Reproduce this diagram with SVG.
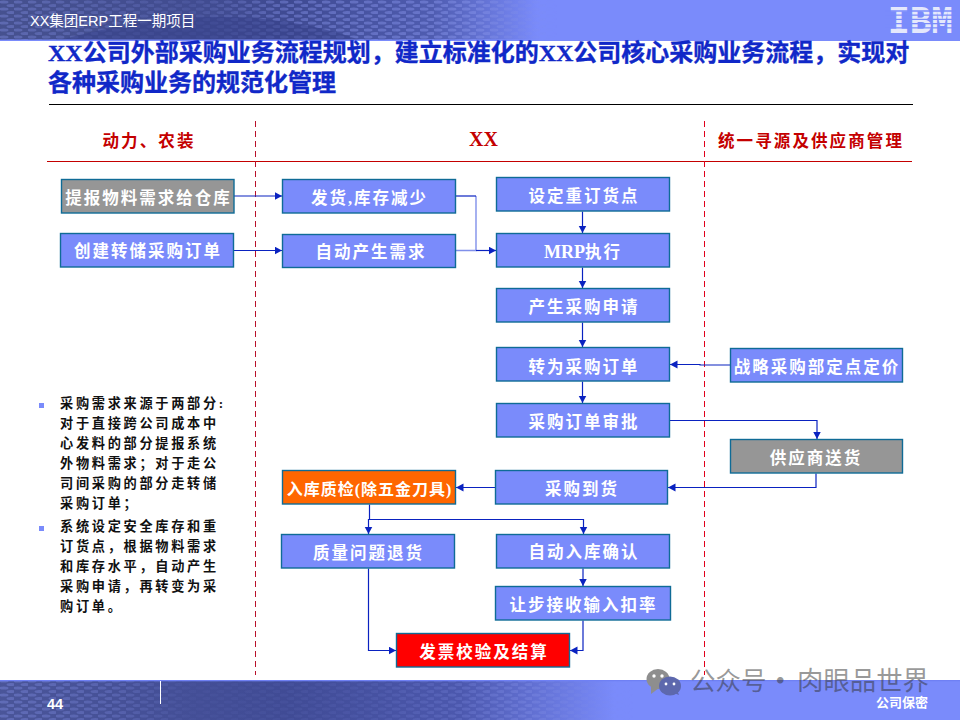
<svg xmlns="http://www.w3.org/2000/svg" width="960" height="720" viewBox="0 0 960 720">
<style>
text{font-family:"Liberation Serif","Noto Sans CJK SC",serif}
.b{stroke:#0f6b96;stroke-width:1.4}
.bl{fill:#7a8bfb}.gr{fill:#969696}.or{fill:#ff6600}.re{fill:#ff0000}
.t{fill:#fff;font-size:16.5px;font-weight:700;letter-spacing:2px;text-anchor:middle}
.title{fill:#1028c8;stroke:#1028c8;stroke-width:.35;font-size:24px;font-weight:700}
.h{fill:#c40000;font-size:16.5px;font-weight:700;letter-spacing:2.1px;text-anchor:middle}
.n{fill:#111;font-size:13.2px;font-weight:700;letter-spacing:2.7px}
.s{font-family:"Liberation Sans","Noto Sans CJK SC",sans-serif;fill:#fff}
.c{fill:none;stroke:#0a22c0;stroke-width:1.2}
.c2{fill:none;stroke:#8090ea;stroke-width:1.4}
.w{fill:#333;fill-opacity:.5;font-family:"Noto Sans CJK SC",sans-serif}
</style>
<defs>
<marker id="a" markerUnits="userSpaceOnUse" markerWidth="9" markerHeight="9" refX="7.5" refY="4" orient="auto"><path d="M0,0L7.5,4L0,8Z" fill="#0a22c0"/></marker>
<linearGradient id="hg" x1="0" x2="1" y1="0" y2="0"><stop offset="0" stop-color="#46518f"/><stop offset=".3" stop-color="#3f4a92"/><stop offset=".45" stop-color="#4f5cb0"/><stop offset=".56" stop-color="#7a8bfb"/><stop offset="1" stop-color="#7a8bfb"/></linearGradient>
<linearGradient id="fg" x1="0" x2="1" y1="0" y2="0"><stop offset="0" stop-color="#4a5599"/><stop offset=".3" stop-color="#404b95"/><stop offset=".48" stop-color="#4c58ae"/><stop offset=".64" stop-color="#7a8bfb"/><stop offset="1" stop-color="#7a8bfb"/></linearGradient>
<pattern id="dots" width="14" height="7" patternUnits="userSpaceOnUse"><ellipse cx="4" cy="2" rx="4.5" ry="1.6" fill="#8492e6" fill-opacity=".55"/><ellipse cx="11" cy="5.5" rx="4.5" ry="1.6" fill="#8492e6" fill-opacity=".55"/></pattern>
<linearGradient id="fadeH" x1="0" x2="1" y1="0" y2="0"><stop offset="0" stop-color="#fff" stop-opacity=".7"/><stop offset=".2" stop-color="#fff" stop-opacity=".25"/><stop offset=".3" stop-color="#fff" stop-opacity=".8"/><stop offset=".5" stop-color="#fff" stop-opacity=".9"/><stop offset=".58" stop-color="#fff" stop-opacity="0"/></linearGradient>
<linearGradient id="fadeF" x1="0" x2="1" y1="0" y2="0"><stop offset="0" stop-color="#fff" stop-opacity=".7"/><stop offset=".12" stop-color="#fff" stop-opacity=".5"/><stop offset=".2" stop-color="#fff" stop-opacity=".1"/><stop offset=".38" stop-color="#fff" stop-opacity=".2"/><stop offset=".55" stop-color="#fff" stop-opacity=".6"/><stop offset=".66" stop-color="#fff" stop-opacity="0"/></linearGradient>
<mask id="mh"><rect width="960" height="40" fill="url(#fadeH)"/></mask>
<mask id="mf"><rect y="680" width="960" height="40" fill="url(#fadeF)"/></mask>
</defs>
<rect width="960" height="720" fill="#fff"/>
<g id="header">
<rect width="960" height="40" fill="url(#hg)"/>
<rect width="960" height="40" fill="url(#dots)" mask="url(#mh)"/>
<path d="M60,40Q230,-6 360,40Z" fill="#37428a" fill-opacity=".55"/>
<rect y="39.5" width="960" height="1.5" fill="#7a8bfb"/>
<text class="s" x="30" y="26" font-size="14.5">XX集团ERP工程一期项目</text>
<text x="920.5" y="33" font-size="39" font-weight="700" fill="#e4e8fc" text-anchor="middle" textLength="65" lengthAdjust="spacingAndGlyphs" style="font-family:'Liberation Mono',monospace">IBM</text>
<path d="M885,11H956M885,15.2H956M885,19.4H956M885,23.6H956M885,27.8H956" stroke="#7a8bfb" stroke-width="1.3"/>
</g>
<g id="footer">
<rect y="680" width="960" height="40" fill="url(#fg)"/>
<rect y="680" width="960" height="40" fill="url(#dots)" mask="url(#mf)"/>
<rect y="680" width="960" height="1.3" fill="#6f80f4"/>
<rect x="160" y="681" width="1" height="23" fill="#fff"/>
<text class="s" x="47" y="709" font-size="14.5" font-weight="700">44</text>
<text class="s" x="876" y="707" font-size="13" font-weight="700">公司保密</text>
</g>
<g id="title">
<text class="title" x="48" y="61">XX公司外部采购业务流程规划，建立标准化的XX公司核心采购业务流程，实现对</text>
<text class="title" x="48" y="91">各种采购业务的规范化管理</text>
</g>
<g id="guides" fill="none">
<path d="M49,104.5H913" stroke="#000" stroke-width="1"/>
<path d="M47,161.5H912" stroke="#c40000" stroke-width="1.2"/>
<path d="M255.5,121V675" stroke="#b8102a" stroke-width="1" stroke-dasharray="6 4"/>
<path d="M704.5,121V675" stroke="#e0001c" stroke-width="1" stroke-dasharray="6 4"/>
</g>
<g id="lanes">
<text class="h" x="149" y="147">动力、农装</text>
<text class="h" x="483.5" y="146" style="font-size:20px;letter-spacing:0">XX</text>
<text class="h" x="811" y="147">统一寻源及供应商管理</text>
</g>
<g id="connectors">
<path class="c" d="M234,196H282" marker-end="url(#a)"/>
<path class="c" d="M233.5,250.5H282" marker-end="url(#a)"/>
<path class="c2" d="M456,250.5H476V196"/>
<path class="c" d="M456,196H476"/>
<path class="c" d="M476,250.5H496" marker-end="url(#a)"/>
<path class="c" d="M582.5,211.5V233" marker-end="url(#a)"/>
<path class="c" d="M582.5,267.5V288" marker-end="url(#a)"/>
<path class="c" d="M582.5,322.5V347" marker-end="url(#a)"/>
<path class="c" d="M582.5,381.5V403" marker-end="url(#a)"/>
<path class="c" d="M730,365H700V364.5H670" marker-end="url(#a)"/>
<path class="c" d="M669.5,420.5H817V439" marker-end="url(#a)"/>
<path class="c" d="M816,473.5V487.5H668" marker-end="url(#a)"/>
<path class="c" d="M495,487.5H456" marker-end="url(#a)"/>
<path class="c" d="M369.5,504.5V519.5H583.5V534" marker-end="url(#a)"/>
<path class="c" d="M369.5,519.5H368.5V534" marker-end="url(#a)"/>
<path class="c" d="M583,568.5V586" marker-end="url(#a)"/>
<path class="c" d="M368.5,568.5V650.5H396" marker-end="url(#a)"/>
<path class="c" d="M583,620.5V650.5H570" marker-end="url(#a)"/>
</g>
<g id="n1"><rect class="b gr" x="61.5" y="179.5" width="172.5" height="33.5"/><text class="t" x="148.5" y="204">提报物料需求给仓库</text></g>
<g id="n2"><rect class="b bl" x="60.5" y="233.5" width="173" height="33.5"/><text class="t" x="148" y="257">创建转储采购订单</text></g>
<g id="n3"><rect class="b bl" x="282.5" y="179.5" width="173" height="33.5"/><text class="t" x="369.5" y="204">发货,库存减少</text></g>
<g id="n4"><rect class="b bl" x="282.5" y="234.5" width="173" height="33"/><text class="t" x="371" y="258">自动产生需求</text></g>
<g id="n5"><rect class="b bl" x="496.5" y="177.5" width="173" height="33.5"/><text class="t" x="584" y="202">设定重订货点</text></g>
<g id="n6"><rect class="b bl" x="496.5" y="233.5" width="173" height="33.5"/><text class="t" x="583" y="258"><tspan style="font-size:18px;letter-spacing:0">MRP</tspan>执行</text></g>
<g id="n7"><rect class="b bl" x="496.5" y="288.5" width="173" height="33.5"/><text class="t" x="584" y="313">产生采购申请</text></g>
<g id="n8"><rect class="b bl" x="496.5" y="347.5" width="173" height="33.5"/><text class="t" x="584" y="373">转为采购订单</text></g>
<g id="n9"><rect class="b bl" x="496.5" y="403.5" width="173" height="33.5"/><text class="t" x="584" y="428">采购订单审批</text></g>
<g id="n10"><rect class="b bl" x="730.5" y="348.5" width="172" height="33.5"/><text class="t" x="817" y="373">战略采购部定点定价</text></g>
<g id="n11"><rect class="b gr" x="730.5" y="439.5" width="172" height="33.5"/><text class="t" x="816" y="464">供应商送货</text></g>
<g id="n12"><rect class="b bl" x="495.5" y="470.5" width="172" height="33.5"/><text class="t" x="582" y="495">采购到货</text></g>
<g id="n13"><rect class="b or" x="282.5" y="470.5" width="173" height="33.5"/><text class="t" x="369.5" y="495" style="font-size:16px;letter-spacing:1px">入库质检(除五金刀具)</text></g>
<g id="n14"><rect class="b bl" x="281.5" y="534.5" width="173" height="33.5"/><text class="t" x="368.5" y="559">质量问题退货</text></g>
<g id="n15"><rect class="b bl" x="496.5" y="534.5" width="173" height="33.5"/><text class="t" x="584" y="558">自动入库确认</text></g>
<g id="n16"><rect class="b bl" x="495.5" y="586.5" width="175" height="33.5"/><text class="t" x="583.5" y="611">让步接收输入扣率</text></g>
<g id="n17"><rect class="b re" x="396.5" y="633.5" width="173" height="33.5"/><text class="t" x="484" y="658">发票校验及结算</text></g>
<g id="notes">
<rect x="39" y="403" width="5" height="5" fill="#7a8bfb"/>
<rect x="39" y="526" width="5" height="5" fill="#7a8bfb"/>
<text class="n" x="60" y="408">采购需求来源于两部分:</text>
<text class="n" x="60" y="428">对于直接跨公司成本中</text>
<text class="n" x="60" y="448">心发料的部分提报系统</text>
<text class="n" x="60" y="468">外物料需求；对于走公</text>
<text class="n" x="60" y="488">司间采购的部分走转储</text>
<text class="n" x="60" y="508">采购订单；</text>
<text class="n" x="60" y="531">系统设定安全库存和重</text>
<text class="n" x="60" y="551">订货点，根据物料需求</text>
<text class="n" x="60" y="571">和库存水平，自动产生</text>
<text class="n" x="60" y="591">采购申请，再转变为采</text>
<text class="n" x="60" y="611">购订单。</text>
</g>
<g id="watermark">
<ellipse cx="658" cy="679" rx="11.5" ry="10" fill="#8e8e8e"/><path d="M651,686L651,694L659,688Z" fill="#8e8e8e"/>
<ellipse cx="670" cy="686" rx="11" ry="9.5" fill="#5d68ad"/><path d="M674,693L679,695L677,690Z" fill="#5d68ad"/>
<circle cx="654" cy="676" r="1.7" fill="#fff"/><circle cx="662" cy="676" r="1.7" fill="#fff"/>
<circle cx="666" cy="684" r="1.4" fill="#fff"/><circle cx="674" cy="684" r="1.4" fill="#fff"/>
<text class="w" x="690" y="690" font-size="25.5">公众号</text>
<text class="w" x="767.5" y="690" font-size="25.5" font-weight="700">·</text>
<text class="w" x="797" y="690" font-size="26.4">肉眼品世界</text>
</g>
</svg>
